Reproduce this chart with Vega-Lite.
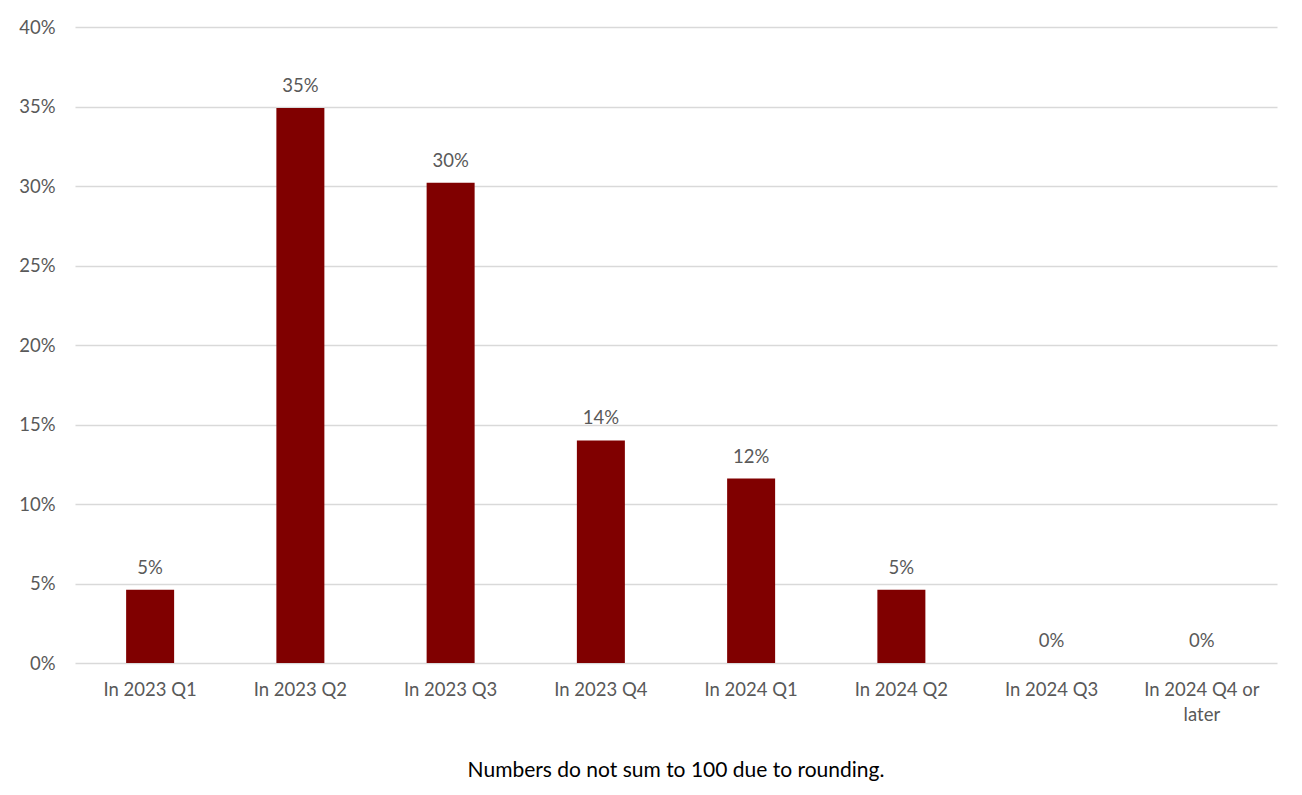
{
  "$schema": "https://vega.github.io/schema/vega-lite/v6.json",
  "autosize": {"type": "none"},
  "width": 1202,
  "height": 636,
  "padding": {"left": 75, "top": 27, "right": 25, "bottom": 132},
  "background": "white",
  "config": {
    "view": {"stroke": null},
    "font": "Lato",
    "axis": {"labelFont": "Lato", "labelFontSize": 18.5, "labelColor": "#595959"}
  },
  "title": {
    "text": "Numbers do not sum to 100 due to rounding.",
    "orient": "bottom",
    "anchor": "middle",
    "font": "Lato",
    "fontSize": 21,
    "fontWeight": "normal",
    "color": "#000000",
    "offset": 36
  },
  "data": {
    "values": [
      {"period": "In 2023 Q1", "share": 0.046},
      {"period": "In 2023 Q2", "share": 0.349},
      {"period": "In 2023 Q3", "share": 0.302},
      {"period": "In 2023 Q4", "share": 0.140},
      {"period": "In 2024 Q1", "share": 0.116},
      {"period": "In 2024 Q2", "share": 0.046},
      {"period": "In 2024 Q3", "share": 0.0},
      {"period": "In 2024 Q4 or later", "share": 0.0}
    ]
  },
  "encoding": {
    "x": {
      "field": "period",
      "type": "nominal",
      "sort": null,
      "scale": {"paddingInner": 0, "paddingOuter": 0},
      "axis": {
        "title": null,
        "labelAngle": 0,
        "domain": false,
        "ticks": false,
        "labelPadding": 17,
        "labelLimit": 300,
        "labelLineHeight": 25,
        "labelExpr": "datum.label == 'In 2024 Q4 or later' ? ['In 2024 Q4 or', 'later'] : datum.label"
      }
    },
    "y": {
      "field": "share",
      "type": "quantitative",
      "scale": {"domain": [0, 0.4], "nice": false},
      "axis": {
        "title": null,
        "format": ".0%",
        "values": [0, 0.05, 0.1, 0.15, 0.2, 0.25, 0.3, 0.35, 0.4],
        "domain": false,
        "ticks": false,
        "labelPadding": 20,
        "gridColor": "#d9d9d9",
        "gridWidth": 1.5
      }
    }
  },
  "layer": [
    {"mark": {"type": "bar", "color": "#800000", "size": 48}},
    {
      "mark": {"type": "text", "baseline": "middle", "dy": -22, "fontSize": 18.5, "color": "#595959", "font": "Lato"},
      "encoding": {"text": {"field": "share", "type": "quantitative", "format": ".0%"}}
    }
  ]
}
